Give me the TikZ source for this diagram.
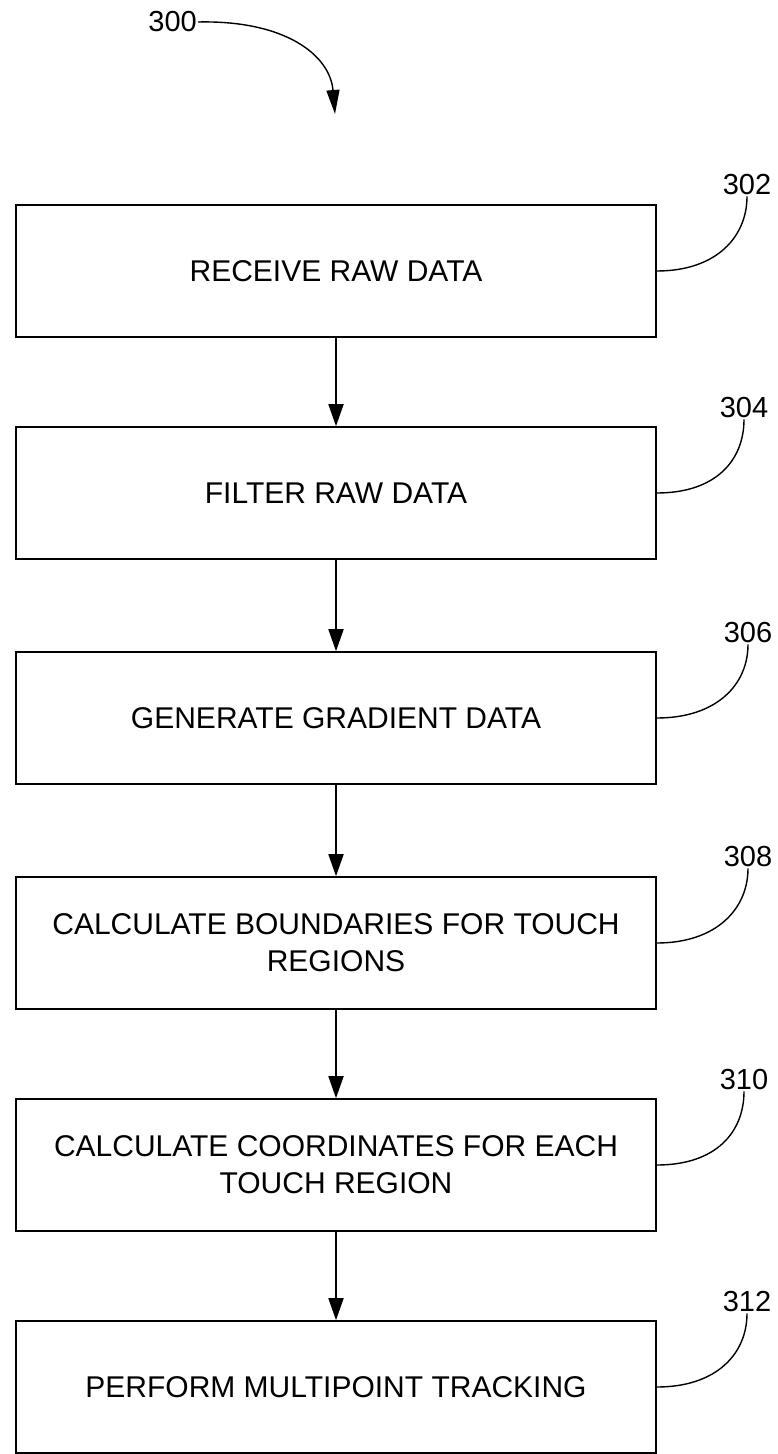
\documentclass[tikz,border=0pt]{standalone}
\usepackage{fontspec}
\setmainfont{Liberation Sans}
\usetikzlibrary{arrows.meta}
\begin{document}
\begin{tikzpicture}[x=1pt,y=-1pt,
  stepbox/.style={draw,line width=1.6pt,minimum width=640pt,minimum height=132pt,inner sep=0pt,align=center,font=\fontsize{30}{37}\selectfont},
  reflbl/.style={inner sep=1pt,font=\fontsize{29}{32}\selectfont},
  flow/.style={line width=1.8pt,-{Triangle[length=22pt,width=15pt]}},
  leader/.style={line width=1.4pt}]
\useasboundingbox (0,0) rectangle (778,1454);
\node[stepbox] (b1) at (336,271) {RECEIVE RAW DATA};
\node[stepbox] (b2) at (336,493) {FILTER RAW DATA};
\node[stepbox] (b3) at (336,718) {GENERATE GRADIENT DATA};
\node[stepbox] (b4) at (336,943) {CALCULATE BOUNDARIES FOR TOUCH\\REGIONS};
\node[stepbox] (b5) at (336,1165) {CALCULATE COORDINATES FOR EACH\\TOUCH REGION};
\node[stepbox] (b6) at (336,1387) {PERFORM MULTIPOINT TRACKING};
\node[reflbl,anchor=east] (l0) at (198,22) {300};
\coordinate (t0) at (335,114);
\draw[line width=1.4pt,-{Triangle[length=24pt,width=13pt]}] (l0.east) .. controls (285,20) and (330,55) .. (t0);
\node[reflbl] (l1) at (747,185) {302};
\node[reflbl] (l2) at (744,408) {304};
\node[reflbl] (l3) at (748,633) {306};
\node[reflbl] (l4) at (748,857) {308};
\node[reflbl] (l5) at (744,1080) {310};
\node[reflbl] (l6) at (747,1302) {312};
\foreach \i in {1,...,6}{
  \draw[leader] (b\i.east) .. controls +(60,0) and +(0,40) .. (l\i.south);
}
\draw[flow] (b1.south) -- (b2.north);
\draw[flow] (b2.south) -- (b3.north);
\draw[flow] (b3.south) -- (b4.north);
\draw[flow] (b4.south) -- (b5.north);
\draw[flow] (b5.south) -- (b6.north);
\end{tikzpicture}
\end{document}
